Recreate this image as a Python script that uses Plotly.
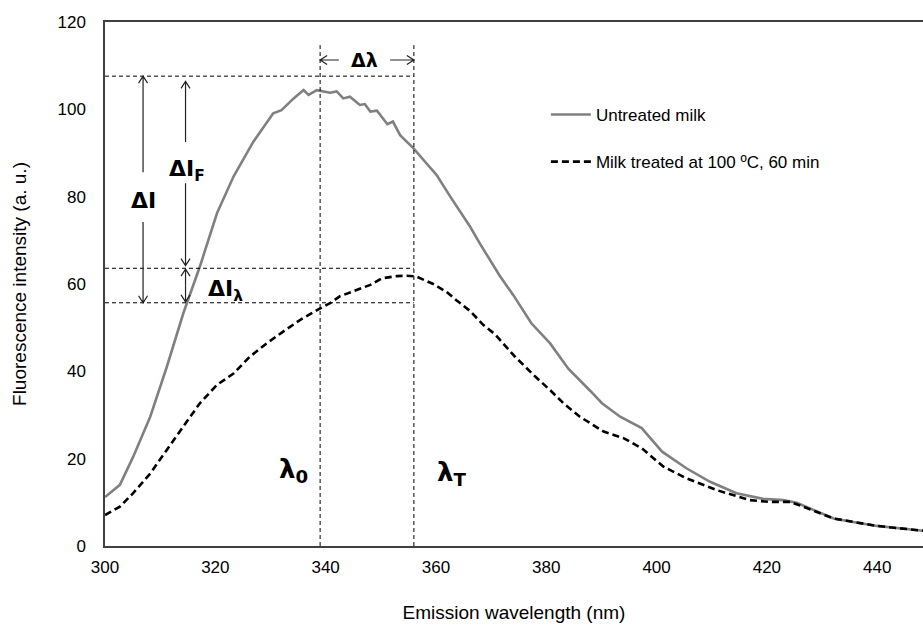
import math
import plotly.graph_objects as go

# ---- data ----
untreated_x = [300, 302.7, 305.1, 308.2, 311.2, 314.2, 317.2, 320.3, 323.3, 326.9, 330.5, 332.0,
               334.2, 336.0, 336.9, 338.4, 340.8, 342.0, 343.2, 344.4, 346.2, 347.1, 348.1, 349.3,
               351.2, 352.2, 353.5, 355.9, 358.3, 360.1, 362.6, 366.2, 368.0, 371.5, 374.0, 377.3,
               380.7, 384.0, 388.0, 390.1, 393.4, 397.3, 401.0, 405.4, 409.7, 414.5, 419.3, 423.0,
               425.4, 429.0, 432.1, 435.1, 439.9, 448.3]
untreated_y = [11.2, 14.0, 20.4, 29.6, 41.0, 53.3, 64.0, 76.2, 84.6, 92.6, 99.1, 99.8,
               102.5, 104.4, 103.3, 104.4, 103.8, 104.1, 102.5, 102.9, 101.0, 101.2, 99.5, 99.7,
               96.6, 97.2, 94.1, 91.1, 87.6, 85.0, 80.0, 73.1, 69.2, 62.0, 57.5, 51.0,
               46.4, 40.6, 35.5, 32.7, 29.6, 27.0, 21.6, 17.8, 14.7, 12.1, 10.8, 10.5,
               9.9, 7.9, 6.3, 5.6, 4.6, 3.5]

treated_x = [300, 302.7, 305.1, 308.2, 311.2, 314.2, 317.2, 320.3, 323.3, 326.3, 329.3, 332.3,
             335.4, 339.0, 340.8, 342.6, 345.6, 348.1, 350.2, 352.9, 354.7, 356.5, 359.5, 361.9,
             363.7, 366.2, 368.6, 370.7, 374.3, 378.0, 380.7, 383.1, 386.1, 390.4, 394.0, 397.3,
             401.2, 405.4, 410.9, 416.9, 420.5, 424.2, 426.6, 432.1, 439.9, 448.3]
treated_y = [7.1, 9.0, 12.1, 16.6, 22.0, 27.3, 32.7, 36.9, 39.5, 43.4, 46.4, 49.1,
             51.8, 54.4, 55.6, 57.2, 58.6, 59.8, 61.3, 61.8, 61.9, 61.7, 60.0, 58.2,
             56.3, 53.8, 50.6, 48.5, 43.4, 38.8, 35.7, 32.7, 29.6, 26.2, 24.7, 22.4,
             18.2, 15.5, 12.8, 10.5, 10.1, 10.1, 9.0, 6.3, 4.6, 3.5]

x_ticks = [300, 320, 340, 360, 380, 400, 420, 440]
y_ticks = [0, 20, 40, 60, 80, 100, 120]

# reference levels of the annotation construction
lambda_0 = 339
lambda_T = 356
I_top = 107.6      # max of untreated
I_mid = 63.6       # max of treated
I_low = 55.7       # treated at lambda_0
guide_top = 114.7

X_RANGE = [300, 448.3]
Y_RANGE = [0, 120]
W, H = 923, 628
ML, MR, MT, MB = 105, 0, 22, 82
SX = (W - ML - MR) / (X_RANGE[1] - X_RANGE[0])   # px per x unit
SY = (H - MT - MB) / (Y_RANGE[1] - Y_RANGE[0])   # px per y unit

fig = go.Figure()
fig.add_trace(go.Scatter(x=untreated_x, y=untreated_y, mode="lines", name="Untreated milk",
                         line=dict(color="#808080", width=2.6), legendgroup="a"))
fig.add_trace(go.Scatter(x=treated_x, y=treated_y, mode="lines", name="Milk treated at 100 ºC, 60 min",
                         line=dict(color="black", width=2.6, dash="7px,4px"), legendgroup="b"))

guide = dict(color="black", width=1, dash="4px,3px")
shapes = [
    dict(type="line", x0=lambda_0, x1=lambda_0, y0=0, y1=guide_top, line=guide),
    dict(type="line", x0=lambda_T, x1=lambda_T, y0=0, y1=guide_top, line=guide),
    dict(type="line", x0=300, x1=lambda_T, y0=I_top, y1=I_top, line=guide),
    dict(type="line", x0=300, x1=lambda_T, y0=I_mid, y1=I_mid, line=guide),
    dict(type="line", x0=300, x1=lambda_T, y0=I_low, y1=I_low, line=guide),
]


def arrow(x_tip, y_tip, x_tail, y_tail, back=7.0, half=4.5):
    # direction in pixel space
    dxp = (x_tip - x_tail) * SX
    dyp = (y_tip - y_tail) * SY
    n = math.hypot(dxp, dyp)
    ux, uy = dxp / n, dyp / n
    px, py = -uy, ux
    a1x = x_tip + (-back * ux + half * px) / SX
    a1y = y_tip + (-back * uy + half * py) / SY
    a2x = x_tip + (-back * ux - half * px) / SX
    a2y = y_tip + (-back * uy - half * py) / SY
    path = (f"M{x_tail},{y_tail} L{x_tip},{y_tip} "
            f"M{a1x},{a1y} L{x_tip},{y_tip} L{a2x},{a2y}")
    shapes.append(dict(type="path", path=path, xref="x", yref="y",
                       line=dict(color="#222222", width=1.2)))


xI = 306.9
xF = 314.6
arrow(xI, I_top, xI, 85.6)
arrow(xI, I_low, xI, 74.2)
arrow(xF, I_top - 1.2, xF, 92.5)
arrow(xF, I_mid + 0.6, xF, 83.1)
arrow(xF, I_mid - 0.2, xF, 59.7)
arrow(xF, I_low + 0.2, xF, 59.7)
arrow(lambda_0, 111.3, 342.4, 111.3)
arrow(lambda_T, 111.3, 351.7, 111.3)

ann = []


def label(x, y, text, size=22):
    ann.append(dict(x=x, y=y, xref="x", yref="y", text=text, showarrow=False,
                    font=dict(family="DejaVu Sans", size=size, color="black")))


label(xI, 79.2, "<b>ΔI</b>")
label(xF + 0.2, 86.1, "<b>ΔI<sub>F</sub></b>")
label(321.9, 58.6, "<b>ΔI<sub>λ</sub></b>")
label(347.1, 111.4, "<b>Δλ</b>", 19)
label(334.1, 17.4, "<b>λ<sub>0</sub></b>", 26)
label(362.9, 16.7, "<b>λ<sub>T</sub></b>", 26)

fig.update_layout(
    width=W, height=H,
    margin=dict(l=ML, r=MR, t=MT, b=MB),
    paper_bgcolor="white", plot_bgcolor="white",
    font=dict(family="Liberation Sans, Arial", size=17, color="black"),
    shapes=shapes, annotations=ann,
    showlegend=True,
    legend=dict(x=0.539, y=0.857, xanchor="left", yanchor="top", bgcolor="rgba(0,0,0,0)",
                font=dict(family="Liberation Sans, Arial", size=17, color="black"),
                tracegroupgap=22, traceorder="grouped", itemwidth=40),
    xaxis=dict(range=X_RANGE, tickvals=x_ticks, showgrid=False, zeroline=False,
               showline=True, linecolor="#404040", linewidth=1.5, mirror=True, ticks="",
               ticklabelstandoff=5,
               tickfont=dict(size=17), title=dict(text="Emission wavelength (nm)", font=dict(size=19), standoff=30)),
    yaxis=dict(range=Y_RANGE, tickvals=y_ticks, showgrid=False, zeroline=False,
               showline=True, linecolor="#404040", linewidth=1.5, ticks="",
               ticklabelstandoff=14,
               tickfont=dict(size=17), title=dict(text="Fluorescence intensity (a. u.)", font=dict(size=19), standoff=26)),
)

fig.write_html("out.html")
